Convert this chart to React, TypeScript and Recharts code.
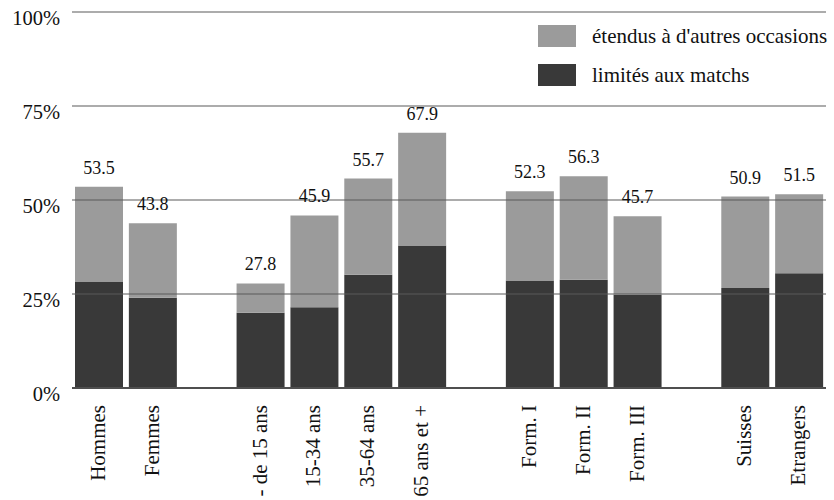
import React from 'react';
import { BarChart, Bar, XAxis, YAxis, CartesianGrid, LabelList } from 'recharts';

const categories = ['Hommes', 'Femmes', '', '- de 15 ans', '15-34 ans', '35-64 ans', '65 ans et +', '', 'Form. I', 'Form. II', 'Form. III', '', 'Suisses', 'Etrangers'];
const limited = [28.2, 24.0, null, 20.0, 21.5, 30.1, 37.9, null, 28.6, 28.8, 24.8, null, 26.6, 30.5];
const extended = [25.3, 19.8, null, 7.8, 24.4, 25.6, 30.0, null, 23.7, 27.5, 20.9, null, 24.3, 21.0];
const totals = [53.5, 43.8, null, 27.8, 45.9, 55.7, 67.9, null, 52.3, 56.3, 45.7, null, 50.9, 51.5];
const yTicks = [0, 25, 50, 75, 100];
const seriesNames = ['étendus à d\'autres occasions', 'limités aux matchs'];

const data = categories.map((c, i) => ({
  key: 'k' + i,
  label: c,
  limited: limited[i],
  extended: extended[i],
  total: totals[i],
}));

const FONT = '"Liberation Serif", "Times New Roman", serif';
const GRAY = '#9b9b9b';
const DARK = '#393939';

const XTick = (props: any) => {
  const { x, y, index } = props;
  const label = categories[index];
  if (!label) return null;
  const ax = x + 6;
  const ay = y + 17;
  return (
    <text x={ax} y={ay} transform={`rotate(-90, ${ax}, ${ay})`} textAnchor="end" fontSize={21} fontFamily={FONT} fill="#111">
      {label}
    </text>
  );
};

const YTick = (props: any) => {
  const { y, payload } = props;
  return (
    <text x={60} y={y + 13} textAnchor="end" fontSize={20.5} fontFamily={FONT} fill="#111">
      {payload.value + '%'}
    </text>
  );
};

const LegendBox = () => (
  <div style={{ position: 'absolute', left: 538, top: 25, fontFamily: FONT, fontSize: 21, color: '#111' }}>
    {[GRAY, DARK].map((col, i) => (
      <div key={i} style={{ display: 'flex', alignItems: 'center', height: 22, marginBottom: i === 0 ? 17 : 0 }}>
        <div style={{ width: 38, height: 22, background: col, marginRight: 16 }} />
        <span style={{ whiteSpace: 'nowrap' }}>{seriesNames[i]}</span>
      </div>
    ))}
  </div>
);

export default function App() {
  return (
    <div style={{ position: 'absolute', left: 0, top: 0, width: 834, height: 500, background: '#fff' }}>
      <BarChart width={834} height={500} data={data} margin={{ top: 12, right: 8, bottom: 0, left: 0 }} barCategoryGap={3}>
        <XAxis dataKey="key" height={112} tickLine={false} tickSize={0} tickMargin={0} interval={0} tick={<XTick />} axisLine={{ stroke: '#444', strokeWidth: 2 }} />
        <YAxis width={72} domain={[0, 100]} ticks={yTicks} axisLine={false} tickLine={false} tick={<YTick />} />
        <Bar dataKey="limited" stackId="a" fill={DARK} isAnimationActive={false} name={seriesNames[1]} />
        <Bar dataKey="extended" stackId="a" fill={GRAY} isAnimationActive={false} name={seriesNames[0]}>
          <LabelList dataKey="total" position="top" offset={13} fontSize={18} fontFamily={FONT} fill="#111" />
        </Bar>
        <CartesianGrid vertical={false} stroke="#5a5a5a" strokeWidth={1.2} {...({ zIndex: 500 } as any)} />
      </BarChart>
      <LegendBox />
    </div>
  );
}
